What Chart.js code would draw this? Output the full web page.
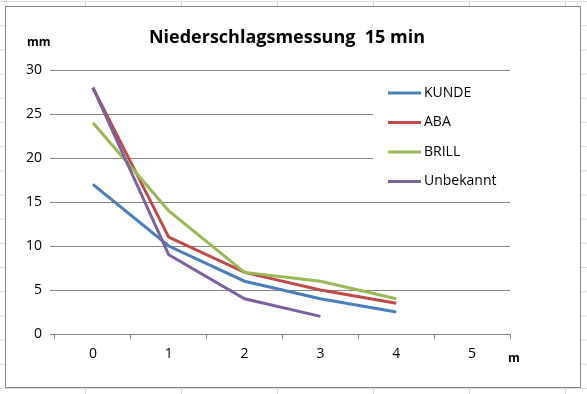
<!DOCTYPE html>
<html>
<head>
<meta charset="utf-8">
<script src="https://cdn.jsdelivr.net/npm/chart.js@4/dist/chart.umd.min.js"></script>
<style>
  body {
    margin: 0;
    width: 587px;
    height: 394px;
    overflow: hidden;
    background-color: #fff;
    background-image: linear-gradient(to right, #dadcdd 1px, transparent 1px),
                      linear-gradient(to bottom, #dadcdd 1px, transparent 1px);
    background-size: 96px 24.2px;
    background-position: 85px 1px;
  }
  #frame {
    position: absolute;
    left: 5px; top: 6px;
    width: 574px; height: 380px;
    border: 1px solid #868686;
    background: #fff;
  }
  #chart { position: absolute; left: 0; top: 0; }
</style>
</head>
<body>
<div id="frame"></div>
<canvas id="chart" width="587" height="394"></canvas>
<script>
// values
var minutes = ['0', '1', '2', '3', '4', '5'];
var kunde = [17, 10, 6, 4, 2.5];
var aba = [28, 11, 7, 5, 3.5];
var brill = [24, 14, 7, 6, 4];
var unbekannt = [28, 9, 4, 2];

var seriesNames = ['KUNDE', 'ABA', 'BRILL', 'Unbekannt'];
var seriesColors = ['#4a7ebb', '#be4b48', '#98b954', '#7d60a0'];

var FONT = '"Open Sans", sans-serif';

// title, axis captions and the legend box, drawn like excel does
var excelBits = {
    id: 'excelBits',
    afterDraw: function(chart) {
        var ctx = chart.ctx;
        ctx.save();
        ctx.fillStyle = '#000';
        ctx.textBaseline = 'middle';

        ctx.font = 'bold 18px ' + FONT;
        ctx.textAlign = 'center';
        ctx.fillText('Niederschlagsmessung  15 min', 287, 38);

        ctx.font = 'bold 12px ' + FONT;
        ctx.textAlign = 'left';
        ctx.fillText('mm', 27, 43);
        ctx.fillText('m', 508, 359);

        // legend
        ctx.fillStyle = '#fff';
        ctx.fillRect(373, 75, 137, 120);
        ctx.font = '14px ' + FONT;
        chart.data.datasets.forEach(function(ds, i) {
            var y = 93 + i * 29.5;
            ctx.strokeStyle = ds.borderColor;
            ctx.lineWidth = 3;
            ctx.beginPath();
            ctx.moveTo(388, y);
            ctx.lineTo(421, y);
            ctx.stroke();
            ctx.fillStyle = '#000';
            ctx.fillText(ds.label, 424, y);
        });
        ctx.restore();
    }
};

var ctx = document.getElementById('chart').getContext('2d');
var chart = new Chart(ctx, {
    type: 'line',
    data: {
        labels: minutes,
        datasets: [kunde, aba, brill, unbekannt].map(function(values, i) {
            return {
                label: seriesNames[i],
                data: values,
                borderColor: seriesColors[i],
                backgroundColor: seriesColors[i],
                borderWidth: 3,
                pointRadius: 0,
                tension: 0,
                fill: false,
                order: 3 - i  // later series on top, like excel
            };
        })
    },
    options: {
        responsive: false,
        animation: false,
        layout: {
            padding: { top: 70, right: 77, bottom: 20, left: 0 }
        },
        plugins: {
            legend: { display: false },
            tooltip: { enabled: false }
        },
        scales: {
            x: {
                offset: true,
                grid: {
                    offset: true,
                    drawOnChartArea: false,
                    tickLength: 5,
                    color: '#868686'
                },
                border: { color: '#868686' },
                ticks: {
                    color: '#000',
                    font: { family: FONT, size: 14 },
                    padding: 7,
                    maxRotation: 0
                },
                afterFit: function(scale) { scale.height = 40; }
            },
            y: {
                min: 0,
                max: 30,
                ticks: {
                    stepSize: 5,
                    color: '#000',
                    font: { family: FONT, size: 14 },
                    padding: 8
                },
                grid: {
                    color: '#868686',
                    tickLength: 5
                },
                border: { display: false },
                afterFit: function(scale) { scale.width = 55; }
            }
        }
    },
    plugins: [excelBits]
});
</script>
</body>
</html>
